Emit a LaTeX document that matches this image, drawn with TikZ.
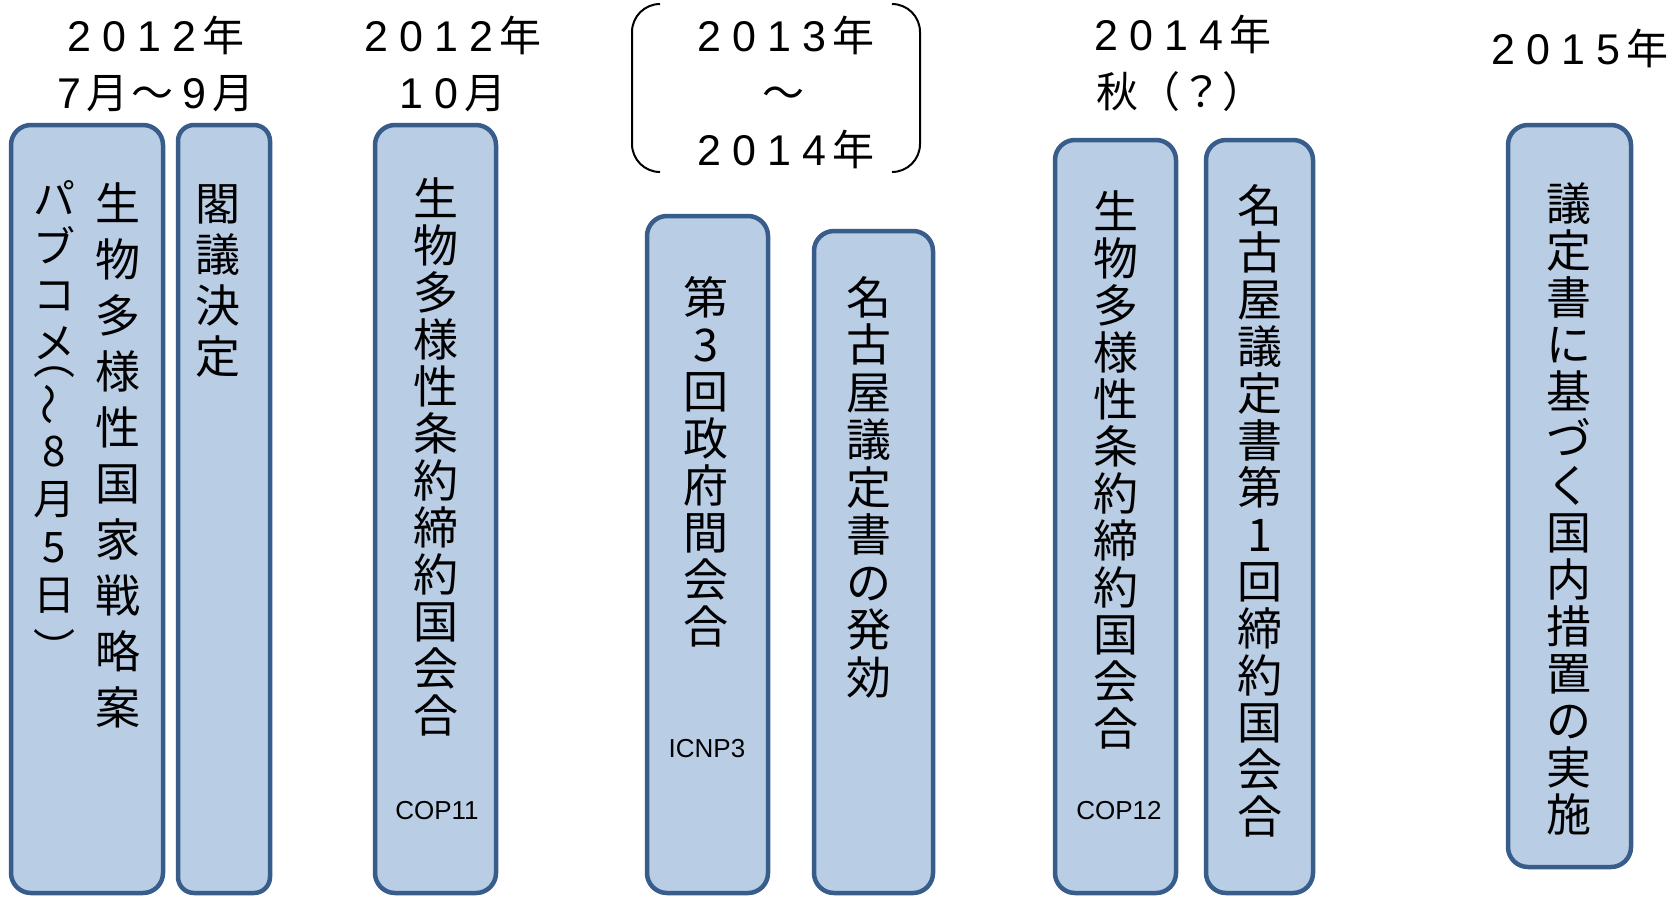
\documentclass[tikz,border=0pt]{standalone}
\usepackage{fontspec}
\newfontfamily\jp{Noto Sans CJK JP}
\newfontfamily\lat{Liberation Sans}
\definecolor{boxfill}{HTML}{B9CDE5}
\definecolor{boxline}{HTML}{385D8A}
\makeatletter
\newcommand\yd[1]{\yd@aux#1\relax}
\def\yd@aux#1{\ifx\relax#1\else\makebox[0.84em]{\lat\fontsize{43}{57}\selectfont#1}\expandafter\yd@aux\fi}
\makeatother
\newcommand\vwave{\smash{\rotatebox{90}{～}}}
\newcommand\wv{\makebox[1.15em]{～}}
\begin{document}
\begin{tikzpicture}[x=1pt,y=-1pt,
  box/.style={draw=boxline, fill=boxfill, line width=4.5pt, rounded corners=20pt, inner sep=0pt, outer sep=0pt},
  vt/.style={align=center, inner sep=0pt, anchor=north, text=black, font=\jp\fontsize{45}{47}\selectfont},
  hdr/.style={align=center, inner sep=0pt, text=black, font=\jp\fontsize{42}{57}\selectfont},
  tag/.style={inner sep=0pt, text=black, font=\lat\fontsize{26}{30}\selectfont},
  brk/.style={draw=black, line width=2pt, rounded corners=28pt}]
\useasboundingbox (0,0) rectangle (1678,897);
\clip (0,0) rectangle (1678,897);
\fill[white] (0,0) rectangle (1678,897);

% boxes
\node[box, minimum width=152pt, minimum height=768pt] (b1) at (87,509) {};
\node[box, rounded corners=16pt, minimum width=92pt, minimum height=768pt] (b2) at (224,509) {};
\node[box, minimum width=121pt, minimum height=768pt] (b3) at (435.5,509) {};
\node[box, minimum width=121pt, minimum height=677pt] (b4) at (707.5,554.5) {};
\node[box, minimum width=119pt, minimum height=662pt] (b5) at (873.5,562) {};
\node[box, minimum width=121pt, minimum height=753pt] (b6) at (1115.5,516.5) {};
\node[box, minimum width=107pt, minimum height=753pt] (b7) at (1259.5,516.5) {};
\node[box, minimum width=123pt, minimum height=742pt] (b8) at (1569.5,496) {};

% headers
\node[hdr] (h1) at (153,64) {\yd{2012}年\\\yd{7}月\wv\yd{9}月};
\node[hdr] (h2) at (450,64) {\yd{2012}年\\\yd{10}月};
\node[hdr] (h3) at (783,92) {\yd{2013}年\\～\\\yd{2014}年};
\node[hdr] (h4) at (1180,63) {\yd{2014}年\\秋（？）};
\node[hdr] (h5) at (1577,48) {\yd{2015}年};

\draw[brk] (660,4) -- (632,4) -- (632,172) -- (660,172);
\draw[brk] (892,4) -- (920,4) -- (920,172) -- (892,172);

% vertical texts
\node[vt, font=\jp\fontsize{45}{56}\selectfont] (t1a) at (118,182) {生\\物\\多\\様\\性\\国\\家\\戦\\略\\案};
\node[vt, font=\jp\fontsize{42}{48}\selectfont] (t1b) at (54,180) {パ\\ブ\\コ\\メ\\[-15pt]\raisebox{17pt}{\smash{︵}}\\[-14pt]\vwave\\[-7pt]8\\月\\5\\日\\[-15pt]\raisebox{-21pt}{\smash{︶}}};
\node[vt, font=\jp\fontsize{45}{51}\selectfont] (t2) at (218,184) {閣\\議\\決\\定};
\node[vt] (t3) at (436,177) {生\\物\\多\\様\\性\\条\\約\\締\\約\\国\\会\\合};
\node[vt] (t4) at (706,276) {第\\3\\回\\政\\府\\間\\会\\合};
\node[vt, font=\jp\fontsize{45}{47.5}\selectfont] (t5) at (869,276) {名\\古\\屋\\議\\定\\書\\の\\発\\効};
\node[vt] (t6) at (1116,190) {生\\物\\多\\様\\性\\条\\約\\締\\約\\国\\会\\合};
\node[vt] (t7) at (1260,184) {名\\古\\屋\\議\\定\\書\\第\\1\\回\\締\\約\\国\\会\\合};
\node[vt] (t8) at (1569,182) {議\\定\\書\\に\\基\\づ\\く\\国\\内\\措\\置\\の\\実\\施};

% small labels
\node[tag] (c11) at (437,811) {COP11};
\node[tag] (ic3) at (707,749) {ICNP3};
\node[tag] (c12) at (1119,811) {COP12};
\end{tikzpicture}
\end{document}
